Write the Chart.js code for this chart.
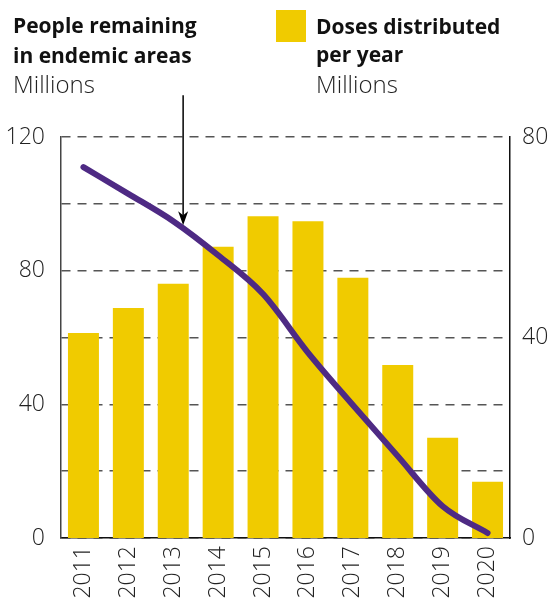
<!DOCTYPE html>
<html>
<head>
<meta charset="utf-8">
<script src="https://cdn.jsdelivr.net/npm/chart.js@4/dist/chart.umd.min.js"></script>
<style>
  html, body { margin: 0; padding: 0; background: #fff; }
  #wrap { position: relative; width: 553px; height: 599px; overflow: hidden; }
  canvas { position: absolute; left: 0; top: 0; }
  .t { position: absolute; white-space: nowrap; line-height: 1; color: #111; font-family: "Open Sans", sans-serif; }
  .b { font-weight: 700; font-size: 21px; }
  .l { font-weight: 300; font-size: 24px; color: #222; }
  #sq { position: absolute; left: 276px; top: 10px; width: 30px; height: 32px; background: #F0CB00; }
</style>
</head>
<body>
<div id="wrap">
  <canvas id="c" width="553" height="599"></canvas>
  <div class="t b" style="left:13px; top:15px;">People remaining</div>
  <div class="t b" style="left:13px; top:45px;">in endemic areas</div>
  <div class="t l" style="left:13px; top:72px;">Millions</div>
  <div id="sq"></div>
  <div class="t b" style="left:316px; top:16px;">Doses distributed</div>
  <div class="t b" style="left:316px; top:44px;">per year</div>
  <div class="t l" style="left:316px; top:72px;">Millions</div>
</div>
<script>
// Data
const years = ['2011','2012','2013','2014','2015','2016','2017','2018','2019','2020'];
const dosesDistributed = [40.9, 45.9, 50.7, 58.1, 64.2, 63.2, 51.9, 34.5, 20.0, 11.2]; // millions, right axis
const peopleRemaining = [111, 103, 94.8, 84.6, 73, 55.5, 39.8, 24.5, 9.5, 1.5];      // millions, left axis
const leftTicks = [0, 40, 80, 120];
const rightTicks = [0, 40, 80];
// Arrow annotation (data units): category index and left-axis values
const arrowIndex = 2.22;
const arrowTopValue = 132.5;
const arrowTipValue = 93.6;

const arrowPlugin = {
  id: 'arrow',
  afterDatasetsDraw(chart) {
    const x = chart.scales.x, y = chart.scales.y;
    const step = x.getPixelForValue(1) - x.getPixelForValue(0);
    const px = x.getPixelForValue(0) + arrowIndex * step;
    const top = y.getPixelForValue(arrowTopValue);
    const tip = y.getPixelForValue(arrowTipValue);
    const ctx = chart.ctx;
    ctx.save();
    ctx.strokeStyle = '#000';
    ctx.fillStyle = '#000';
    ctx.lineWidth = 1.5;
    ctx.beginPath();
    ctx.moveTo(px, top);
    ctx.lineTo(px, tip - 10);
    ctx.stroke();
    ctx.beginPath();
    ctx.moveTo(px - 5, tip - 14);
    ctx.lineTo(px, tip - 10);
    ctx.lineTo(px + 5, tip - 14);
    ctx.lineTo(px, tip);
    ctx.closePath();
    ctx.fill();
    ctx.restore();
  }
};

const tickFont = { family: '"Open Sans", sans-serif', size: 23, weight: 300 };

new Chart(document.getElementById('c'), {
  data: {
    labels: years,
    datasets: [
      {
        type: 'line',
        label: 'People remaining in endemic areas',
        data: peopleRemaining,
        yAxisID: 'y',
        borderColor: '#4E2A84',
        borderWidth: 6,
        borderCapStyle: 'round',
        borderJoinStyle: 'round',
        cubicInterpolationMode: 'monotone',
        pointRadius: 0,
        fill: false,
        order: 0
      },
      {
        type: 'bar',
        label: 'Doses distributed per year',
        data: dosesDistributed,
        yAxisID: 'y1',
        backgroundColor: '#F0CB00',
        borderWidth: 0,
        categoryPercentage: 1,
        barPercentage: 0.69,
        order: 1
      }
    ]
  },
  options: {
    responsive: false,
    animation: false,
    events: [],
    layout: { padding: { top: 137, left: 0, right: 0, bottom: 0 } },
    plugins: { legend: { display: false }, tooltip: { enabled: false } },
    scales: {
      x: {
        grid: { display: false, drawTicks: false },
        border: { display: true, color: '#111', width: 1.5 },
        ticks: {
          font: tickFont, color: '#222', minRotation: 90, maxRotation: 90, padding: 8, autoSkip: false
        },
        afterFit(s) { s.height = 61; s.paddingLeft = 0; s.paddingRight = 0; }
      },
      y: {
        position: 'left',
        min: 0, max: 120,
        grid: { color: '#555', lineWidth: 1.5, drawTicks: false },
        border: { display: true, color: '#444', width: 1.5, dash: [9, 7] },
        ticks: {
          stepSize: 20, font: tickFont, color: '#222', padding: 16,
          callback: (v) => leftTicks.includes(v) ? String(v) : ''
        },
        afterFit(s) { s.width = 61; s.paddingTop = 0; s.paddingBottom = 0; }
      },
      y1: {
        position: 'right',
        min: 0, max: 80,
        grid: { display: false, drawTicks: false },
        border: { display: true, color: '#111', width: 1.5 },
        ticks: {
          stepSize: 40, font: tickFont, color: '#222', padding: 12,
          callback: (v) => rightTicks.includes(v) ? String(v) : ''
        },
        afterFit(s) { s.width = 43; s.paddingTop = 0; s.paddingBottom = 0; }
      }
    }
  },
  plugins: [arrowPlugin]
});
</script>
</body>
</html>
